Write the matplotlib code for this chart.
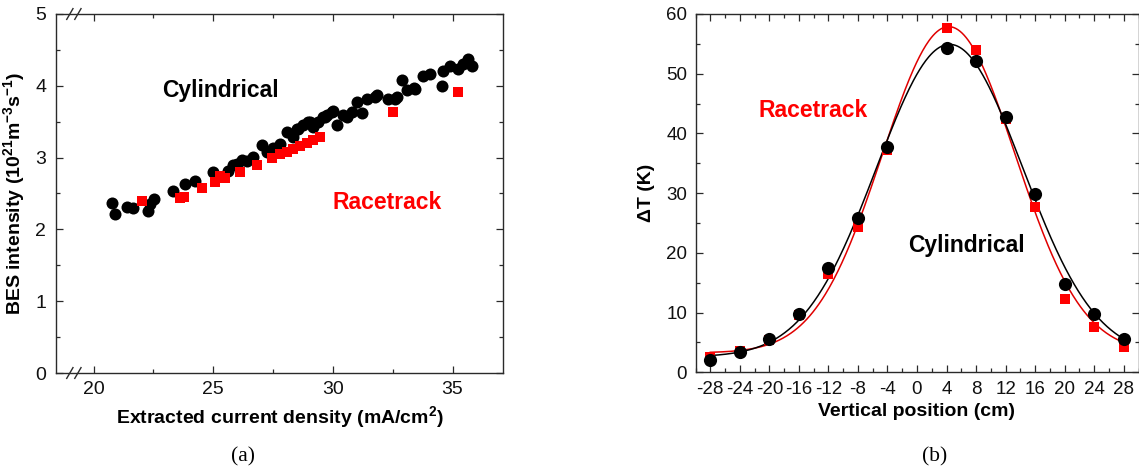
import numpy as np
import matplotlib
matplotlib.use("Agg")
import matplotlib.pyplot as plt
from matplotlib.ticker import MultipleLocator

plt.rcParams['font.family'] = ['Liberation Sans', 'DejaVu Sans']
plt.rcParams['axes.unicode_minus'] = False
plt.rcParams['mathtext.fontset'] = 'custom'
plt.rcParams['mathtext.rm'] = 'Liberation Sans:bold'
plt.rcParams['mathtext.bf'] = 'Liberation Sans:bold'
plt.rcParams['mathtext.default'] = 'rm'

# ---------------- data: panel (a) ----------------
cyl_current = [20.76, 20.90, 21.39, 21.66, 22.29, 22.36, 22.53, 23.33, 23.82, 24.24,
               25.00, 25.63, 25.84, 25.98, 26.19, 26.40, 26.68, 27.03, 27.24, 27.51,
               27.79, 28.07, 28.35, 28.49, 28.56, 28.77, 28.98, 29.05, 29.19, 29.39,
               29.60, 29.67, 29.74, 29.95, 30.02, 30.16, 30.44, 30.58, 30.79, 31.00,
               31.21, 31.42, 31.76, 31.84, 32.32, 32.60, 32.67, 32.88, 33.09, 33.37,
               33.43, 33.78, 34.06, 34.55, 34.62, 34.90, 35.24, 35.45, 35.66, 35.80]
cyl_bes = [2.37, 2.22, 2.31, 2.30, 2.26, 2.35, 2.42, 2.54, 2.63, 2.68,
           2.80, 2.82, 2.89, 2.91, 2.96, 2.95, 3.01, 3.17, 3.08, 3.14,
           3.19, 3.36, 3.29, 3.40, 3.40, 3.45, 3.50, 3.50, 3.43, 3.50,
           3.57, 3.57, 3.59, 3.63, 3.65, 3.45, 3.59, 3.57, 3.63, 3.77,
           3.62, 3.82, 3.84, 3.87, 3.82, 3.82, 3.84, 4.08, 3.94, 3.97,
           3.96, 4.14, 4.17, 4.00, 4.21, 4.28, 4.24, 4.31, 4.38, 4.27]
race_current = [22.04, 23.61, 23.78, 24.52, 25.08, 25.29, 25.50, 26.12, 26.82,
                27.45, 27.79, 28.07, 28.35, 28.63, 28.91, 29.19, 29.47, 32.53, 35.24]
race_bes = [2.40, 2.44, 2.45, 2.58, 2.66, 2.75, 2.71, 2.80, 2.89,
            2.99, 3.05, 3.08, 3.12, 3.16, 3.20, 3.24, 3.29, 3.63, 3.92]

# ---------------- data: panel (b) ----------------
position = [-28, -24, -20, -16, -12, -8, -4, 4, 8, 12, 16, 20, 24, 28]
dT_cyl = [2.06, 3.46, 5.58, 9.77, 17.4, 25.9, 37.8, 54.35, 52.1, 42.7, 29.85, 14.8, 9.77, 5.52]
dT_race = [2.6, 3.6, 5.4, 9.6, 16.5, 24.3, 37.3, 57.7, 53.9, 42.4, 27.6, 12.3, 7.6, 4.2]
pos_ticks = [-28, -24, -20, -16, -12, -8, -4, 0, 4, 8, 12, 16, 20, 24, 28]


def gauss(x, y0, a, xc, w):
    return y0 + a * np.exp(-0.5 * ((x - xc) / w) ** 2)


def fit_gauss(x, y):
    x = np.asarray(x, float)
    y = np.asarray(y, float)
    p = np.array([y.min(), y.max() - y.min(), x[np.argmax(y)], 8.0])
    lam = 1e-3
    for _ in range(400):
        r = y - gauss(x, *p)
        J = np.empty((len(x), 4))
        for k in range(4):
            dp = np.zeros(4)
            h = 1e-6 * max(1.0, abs(p[k]))
            dp[k] = h
            J[:, k] = (gauss(x, *(p + dp)) - gauss(x, *p)) / h
        A = J.T @ J
        g = J.T @ r
        step = np.linalg.solve(A + lam * np.diag(np.diag(A)), g)
        pn = p + step
        if np.sum((y - gauss(x, *pn)) ** 2) < np.sum(r ** 2):
            p = pn
            lam *= 0.3
        else:
            lam *= 10
    return p


W, H = 1139, 473
fig = plt.figure(figsize=(W / 100, H / 100), dpi=100)

spine_col = '#2a2a2a'


def style_axes(ax, fs):
    for s in ax.spines.values():
        s.set_color(spine_col)
        s.set_linewidth(1.0)
    ax.tick_params(which='both', direction='in', top=True, right=True,
                   colors=spine_col, labelcolor='#111111')
    ax.tick_params(which='major', length=5, width=0.9, labelsize=fs)
    ax.tick_params(which='minor', length=3, width=0.9)


# ---------------- panel (a) ----------------
axa = fig.add_axes([56 / W, 1 - 373 / H, 447 / W, 359 / H])
axa.scatter(cyl_current, cyl_bes, s=75, marker='o', color='black', zorder=3, linewidths=0)
axa.scatter(race_current, race_bes, s=58, marker='s', color='#ff0000', zorder=4, linewidths=0)
axa.set_xlim(18.43, 37.11)
axa.set_ylim(0, 5)
axa.yaxis.set_major_locator(MultipleLocator(1))
axa.yaxis.set_minor_locator(MultipleLocator(0.5))
style_axes(axa, 14)
axa.tick_params(axis='y', pad=7)
axa.tick_params(axis='x', pad=6)
axa.set_xticks([20, 25, 30, 35])
axa.set_xticks([22.5, 27.5, 32.5], minor=True)
axa.set_xlabel('Extracted current density (mA/cm$^{2}$)', fontsize=14, fontweight='bold', labelpad=4)
axa.set_ylabel('BES intensity (10$^{21}$m$^{-3}$s$^{-1}$)', fontsize=14, fontweight='bold', labelpad=6)
axa.text(25.29, 3.94, 'Cylindrical', fontsize=16.5, fontweight='bold', color='black',
         ha='center', va='center')
axa.text(32.25, 2.38, 'Racetrack', fontsize=16.5, fontweight='bold', color='#ff0000',
         ha='center', va='center')
# axis break marks
for yb in (0.0, 1.0):
    for xb in (0.031, 0.049):
        axa.plot([xb - 0.007, xb + 0.007], [yb - 0.015, yb + 0.015], transform=axa.transAxes,
                 color=spine_col, lw=1.0, clip_on=False, zorder=5)

# ---------------- panel (b) ----------------
axb = fig.add_axes([695.5 / W, 1 - 372.3 / H, 443 / W, 358.3 / H])
xs = np.linspace(-28, 28, 400)
pr = fit_gauss(position, dT_race)
pc = fit_gauss(position, dT_cyl)
axb.plot(xs, gauss(xs, *pr), color='#e00000', lw=1.1, zorder=2)
axb.plot(xs, gauss(xs, *pc), color='black', lw=1.1, zorder=2)
axb.scatter(position, dT_race, s=62, marker='s', color='#ff0000', zorder=3, linewidths=0)
axb.scatter(position, dT_cyl, s=90, marker='o', color='black', zorder=4, linewidths=0)
axb.set_xlim(-30, 30)
axb.set_ylim(0, 60)
axb.set_xticks(pos_ticks)
axb.set_xticklabels([str(t) for t in pos_ticks])
axb.xaxis.set_minor_locator(MultipleLocator(2))
axb.yaxis.set_major_locator(MultipleLocator(10))
axb.yaxis.set_minor_locator(MultipleLocator(5))
style_axes(axb, 13.5)
axb.tick_params(axis='y', pad=6)
axb.tick_params(axis='x', pad=6)
axb.set_xlabel('Vertical position (cm)', fontsize=14, fontweight='bold', labelpad=4)
axb.set_ylabel('\u0394T (K)', fontsize=14, fontweight='bold', labelpad=8)
axb.text(-14.06, 43.9, 'Racetrack', fontsize=16.5, fontweight='bold', color='#ff0000',
         ha='center', va='center')
axb.text(6.73, 21.3, 'Cylindrical', fontsize=16.5, fontweight='bold', color='black',
         ha='center', va='center')

# sub-captions
fig.text(243 / W, 1 - 457 / H, '(a)', fontsize=15.5, family=['Liberation Serif'], ha='center', va='center')
fig.text(935 / W, 1 - 457 / H, '(b)', fontsize=15.5, family=['Liberation Serif'], ha='center', va='center')

fig.savefig('out.png', dpi=100)
